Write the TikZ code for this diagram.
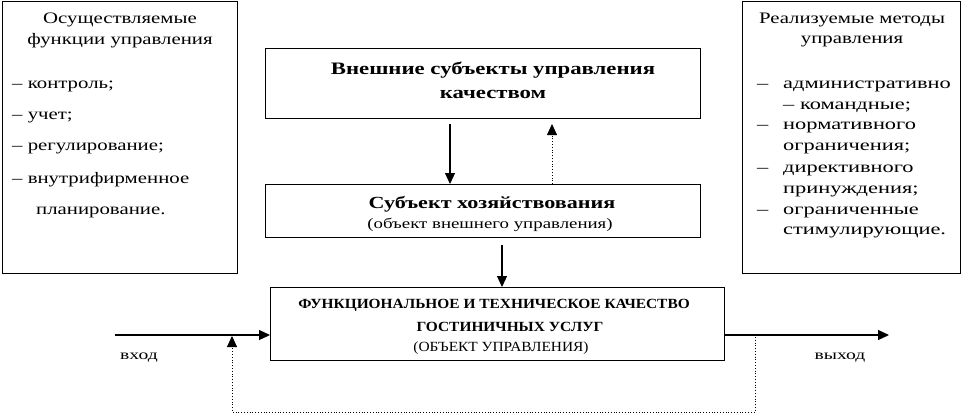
\documentclass[tikz,border=0pt]{standalone}
\usepackage{fontspec}
\setmainfont{Liberation Serif}
\newfontfamily\wideA[FakeStretch=1.3]{Liberation Serif}
\newfontfamily\wideB[FakeStretch=1.4]{Liberation Serif}
\newfontfamily\wideC[FakeStretch=1.1]{Liberation Serif}
\usetikzlibrary{arrows.meta}
\begin{document}
\begin{tikzpicture}[x=1pt,y=-1pt,
  box/.style={draw, line width=1.2pt, anchor=north west, inner sep=0pt},
  txt/.style={inner sep=0pt, font=\wideA\fontsize{16}{18}\selectfont},
  ltxt/.style={txt, anchor=west},
  rtxt/.style={ltxt, font=\wideB\fontsize{16}{18}\selectfont},
  arr/.style={line width=1.2pt, -{Triangle[length=11pt,width=10pt]}},
  darr/.style={line width=0.8pt, dotted, -{Triangle[length=11pt,width=10pt]}}]
\useasboundingbox (0,0) rectangle (962,413);
% side boxes
\node[box, minimum width=235pt, minimum height=272pt] (lbox) at (2,1) {};
\node[box, minimum width=218pt, minimum height=272pt] (rbox) at (742,1) {};
% center boxes
\node[box, minimum width=435pt, minimum height=70pt] (top) at (265,48) {};
\node[box, minimum width=435pt, minimum height=53pt] (mid) at (265,184) {};
\node[box, minimum width=454pt, minimum height=73pt] (bot) at (270,287) {};
% left texts
\node[txt] (l1) at (120,20) {Осуществляемые};
\node[txt] (l2) at (120,41) {функции управления};
\node[ltxt] (l3) at (12,86) {– контроль;};
\node[ltxt] (l4) at (12,117) {– учет;};
\node[ltxt] (l5) at (12,148) {– регулирование;};
\node[ltxt] (l6) at (12,180) {– внутрифирменное};
\node[ltxt] (l7) at (36,212) {планирование.};
% right texts
\node[txt] (r1) at (852,20) {Реализуемые методы};
\node[txt] (r2) at (852,41) {управления};
\node[rtxt] (rd1) at (757,86) {–};
\node[rtxt] (r3) at (783,86) {административно};
\node[rtxt] (r4) at (783,107) {– командные;};
\node[rtxt] (rd2) at (757,127) {–};
\node[rtxt] (r5) at (783,127) {нормативного};
\node[rtxt] (r6) at (783,148) {ограничения;};
\node[rtxt] (rd3) at (757,170) {–};
\node[rtxt] (r7) at (783,170) {директивного};
\node[rtxt] (r8) at (783,191) {принуждения;};
\node[rtxt] (rd4) at (757,212) {–};
\node[rtxt] (r9) at (783,212) {ограниченные};
\node[rtxt] (r10) at (783,232) {стимулирующие.};
% center texts
\node[txt, font=\wideA\fontsize{17.5}{19}\selectfont\bfseries] (t1) at (493,70) {Внешние субъекты управления};
\node[txt, font=\wideA\fontsize{17.5}{19}\selectfont\bfseries] (t2) at (493,94) {качеством};
\node[txt, font=\wideA\fontsize{17}{19}\selectfont\bfseries] (m1) at (492,204) {Субъект хозяйствования};
\node[txt, font=\wideA\fontsize{14.5}{16}\selectfont] (m2) at (490,225) {(объект внешнего управления)};
\node[txt, font=\wideC\fontsize{14}{16}\selectfont\bfseries] (b1) at (494,305) {ФУНКЦИОНАЛЬНОЕ И ТЕХНИЧЕСКОЕ КАЧЕСТВО};
\node[txt, font=\wideC\fontsize{14}{16}\selectfont\bfseries] (b2) at (510,327) {ГОСТИНИЧНЫХ УСЛУГ};
\node[txt, font=\wideC\fontsize{14}{16}\selectfont] (b3) at (501,348) {(ОБЪЕКТ УПРАВЛЕНИЯ)};
\node[txt, font=\wideB\fontsize{14}{16}\selectfont] (in) at (139,358) {вход};
\node[txt, font=\wideB\fontsize{14}{16}\selectfont] (out) at (840,358) {выход};
% coordinates
\coordinate (a1) at (450,124);
\coordinate (a2) at (552,124);
\coordinate (a3) at (502,245);
\coordinate (ins) at (115,335);
\coordinate (oute) at (889,335);
\coordinate (f1) at (755,337);
\coordinate (f2) at (755,412);
\coordinate (f3) at (232,412);
\coordinate (f4) at (232,336);
% arrows
\draw[arr] (a1) -- (a1 |- mid.north);
\draw[darr] (a2 |- mid.north) -- (a2);
\draw[arr] (a3) -- (a3 |- bot.north);
\draw[arr] (ins) -- (ins -| bot.west);
\draw[arr] (ins -| bot.east) -- (oute);
\draw[darr] (f1) -- (f2) -- (f3) -- (f4);
\end{tikzpicture}
\end{document}
